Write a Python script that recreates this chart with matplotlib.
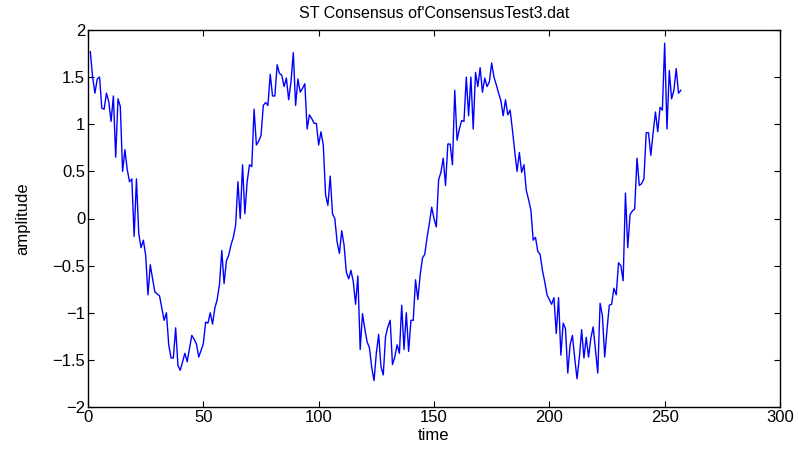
import numpy as np
import matplotlib.pyplot as plt

plt.rcParams.update({
    "font.family": ["Liberation Sans", "DejaVu Sans"],
    "xtick.direction": "in",
    "ytick.direction": "in",
    "xtick.top": True,
    "ytick.right": True,
})

# amplitude values, samples 1..257
amp_a = [1.77, 1.50, 1.33, 1.48, 1.50, 1.17, 1.16, 1.33, 1.24, 1.03, 1.30, 0.65,
         1.27, 1.19, 0.50, 0.73, 0.52, 0.39, 0.42, -0.19, 0.42, -0.16, -0.31, -0.23,
         -0.39, -0.81, -0.49, -0.64, -0.78, -0.80, -0.82, -0.95]
amp_b = [-1.08, -1.00, -1.34, -1.48, -1.48, -1.16, -1.56, -1.61, -1.52, -1.43, -1.52,
         -1.38, -1.24, -1.28, -1.33, -1.47, -1.40, -1.33, -1.10, -1.11, -1.00, -1.12,
         -0.95, -0.86, -0.70, -0.34, -0.69, -0.45, -0.39, -0.28, -0.20, -0.07]
amp_c = [0.39, 0.00, 0.57, 0.05, 0.39, 0.57, 0.55, 1.16, 0.78, 0.82, 0.88, 1.20, 1.23,
         1.20, 1.53, 1.30, 1.30, 1.63, 1.54, 1.52, 1.40, 1.49, 1.26, 1.45, 1.76, 1.20,
         1.48, 1.34, 1.38, 1.43, 0.95]
amp_d = [1.10, 1.06, 1.01, 1.01, 0.78, 0.92, 0.78, 0.25, 0.14, 0.45, 0.05, 0.00,
         -0.25, -0.37, -0.13, -0.28, -0.57, -0.64, -0.55, -0.67, -0.91, -0.61, -1.39,
         -1.01, -1.17, -1.31, -1.37, -1.58, -1.72, -1.43, -1.23, -1.57]
amp_e = [-1.66, -1.25, -1.15, -1.08, -1.55, -1.47, -1.34, -1.43, -0.92, -1.39, -1.00,
         -1.41, -1.08, -1.08, -0.65, -0.86, -0.60, -0.42, -0.38, -0.20, -0.05, 0.12,
         0.00, -0.09, 0.41, 0.49, 0.64, 0.35, 0.79, 0.79, 0.57]
amp_f = [1.36, 0.83, 0.95, 1.04, 1.03, 1.50, 1.09, 1.50, 0.95, 1.55, 1.40, 1.60, 1.34,
         1.49, 1.40, 1.45, 1.65, 1.50, 1.42, 1.33, 1.25, 1.09, 1.26, 1.10, 1.15, 0.94,
         0.71, 0.50, 0.70, 0.49, 0.57, 0.30]
amp_g = [0.20, 0.09, -0.23, -0.20, -0.35, -0.38, -0.55, -0.67, -0.81, -0.86, -0.91,
         -0.84, -1.22, -0.84, -1.45, -1.11, -1.17, -1.64, -1.34, -1.24, -1.48, -1.70,
         -1.48, -1.18, -1.48, -1.26, -1.47, -1.27, -1.15, -1.40]
amp_h = [-1.64, -0.90, -1.03, -1.47, -1.18, -0.92, -0.91, -0.74, -0.81, -0.47, -0.50,
         -0.66, 0.27, -0.31, 0.04, 0.08, 0.10, 0.64, 0.35, 0.37, 0.42, 0.91, 0.91, 0.67,
         0.91, 1.13, 0.92, 1.18, 1.15, 1.86, 0.95, 1.57, 1.27, 1.36, 1.59, 1.33, 1.36]

amplitude = np.array(amp_a + amp_b + amp_c + amp_d + amp_e + amp_f + amp_g + amp_h)
t = np.arange(1, len(amplitude) + 1)

fig = plt.figure(figsize=(7.98, 4.49), dpi=100)
ax = fig.add_axes([88/798, 42/449, 692/798, 377/449])
ax.plot(t, amplitude, color=(0, 0, 1), linewidth=1.0)

ax.set_xlim(0, 300)
ax.set_ylim(-2, 2)
ax.set_xticks(np.arange(0, 301, 50))
ax.set_yticks(np.arange(-2, 2.01, 0.5))
ax.set_yticklabels(['\u22122', '\u22121.5', '\u22121', '\u22120.5', '0', '0.5', '1', '1.5', '2'])
ax.tick_params(labelsize=12, length=4, width=0.8, pad=2)
for s in ax.spines.values():
    s.set_linewidth(1.0)

ax.set_xlabel('time', fontsize=12, labelpad=2)
ax.set_ylabel('amplitude', fontsize=12, labelpad=16,
              family=["Liberation Sans Narrow", "Liberation Sans", "DejaVu Sans"])
ax.set_title("ST Consensus of'ConsensusTest3.dat", fontsize=11.5, pad=9)

fig.savefig('out.png', dpi=100)
